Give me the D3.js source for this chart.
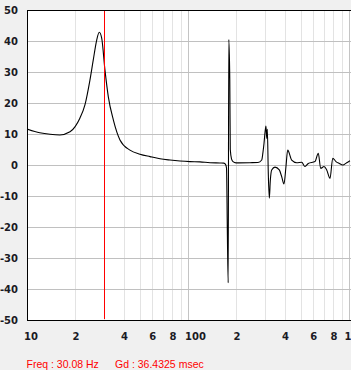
<!DOCTYPE html>
<html>
<head>
  <style>
    body { margin: 0; background: #f0f0f0; }
    svg { display: block; }
    .tick text { font-family: "DejaVu Sans", sans-serif; font-weight: bold; font-size: 10px; fill: #1a1a24; }
    .readout { font-family: "Liberation Sans", Arial, sans-serif; font-size: 10.5px; fill: #ff0000; }
  </style>
</head>
<body>
  <script src="https://cdn.jsdelivr.net/npm/d3@7"></script>
  <script>
    var width = 351;
    var height = 370;

    // group delay trace: frequency (Hz) and delay (msec)
    const freqs = [10, 12, 13.9, 16, 18.5, 19.9, 21.3, 22.9, 24.6, 25.8, 27.1, 28.1, 29.1, 30.5, 32, 34.4,
      37.8, 43.6, 50.3, 58.1, 67, 77.3, 89.2, 102.8, 118.7, 137, 158, 167, 171, 173.5, 175.5, 177.7,
      179.2, 181.8, 183.1, 186.3, 190.3, 198.7, 242.7, 272, 287, 292, 296.6, 300.8, 305, 308.3, 311,
      315.4, 320, 324.5, 331, 347, 369, 382, 394.6, 406, 416, 440.5, 473.4, 508.6, 533, 558.6, 615,
      644.6, 667, 699.6, 727, 762.4, 792.4, 830, 871, 914, 968, 1014];
    const delays = [11.6, 10.4, 9.9, 9.7, 10.7, 12.4, 15.1, 19.4, 27.4, 33.9, 40.3, 42.8, 40.9, 30.6, 22, 14.5,
      8.1, 4.8, 3.5, 2.7, 2.0, 1.6, 1.3, 1.1, 1.0, 0.75, 0.65, 0.6, 0.2, -1, -21, -38,
      40.5, 27.4, 5, 2, 1.1, 0.7, 0.75, 0.8, 1.6, 4, 7, 10.5, 12.6, 8.6, 11.5,
      -3, -10.7, -5, -1.6, -0.7, -1.6, -3.8, -6.1, -0.5, 4.8, 1.6, 0.75, 0.9, -0.5, 0.5, 1.1,
      3.8, -1.1, -0.5, -1.6, -4.3, 2.2, 1.1, 0.5, 0, 0.75, 1.4];

    const cursorFreq = 30.08;
    const readoutFreq = "Freq : 30.08 Hz";
    const readoutGd = "Gd : 36.4325 msec";

    const majorFreqs = [10, 100, 1000];
    const minorFreqs = [20, 30, 40, 50, 60, 70, 80, 90, 200, 300, 400, 500, 600, 700, 800, 900];
    const xTickValues = [10, 20, 40, 60, 80, 100, 200, 400, 600, 800, 1000];
    const xTickLabels = ["10", "2", "4", "6", "8", "100", "2", "4", "6", "8", "1"];
    const yTickValues = [-50, -40, -30, -20, -10, 0, 10, 20, 30, 40, 50];

    const plotLeft = 27, plotTop = 10, plotBottom = 320, plotRight = 349;

    var x = d3.scaleLog().domain([10, 1000]).range([plotLeft, plotRight]);
    var y = d3.scaleLinear().domain([-50, 50]).range([plotBottom, plotTop]);

    var svg = d3.select("body").append("svg")
      .attr("width", width)
      .attr("height", height);

    svg.append("rect")
      .attr("x", plotLeft).attr("y", plotTop)
      .attr("width", width - plotLeft).attr("height", plotBottom - plotTop)
      .style("fill", "white");

    var px = v => Math.round(v) + 0.5;

    // grid
    var grid = svg.append("g").attr("class", "grid").style("shape-rendering", "crispEdges");
    grid.selectAll("line.minor").data(minorFreqs).join("line")
      .attr("class", "minor")
      .attr("x1", d => px(x(d))).attr("x2", d => px(x(d)))
      .attr("y1", plotTop).attr("y2", plotBottom)
      .style("stroke", "#e3e3e3");
    grid.selectAll("line.major").data(majorFreqs.slice(1)).join("line")
      .attr("class", "major")
      .attr("x1", d => px(x(d))).attr("x2", d => px(x(d)))
      .attr("y1", plotTop).attr("y2", plotBottom)
      .style("stroke", "#c4c4c4");
    grid.selectAll("line.hz").data(yTickValues.slice(1, -1)).join("line")
      .attr("class", "hz")
      .attr("x1", plotLeft).attr("x2", width)
      .attr("y1", d => px(y(d))).attr("y2", d => px(y(d)))
      .style("stroke", "#c0c0c0");

    // frame
    var frame = svg.append("g").style("shape-rendering", "crispEdges");
    frame.append("line").attr("x1", plotLeft).attr("x2", width).attr("y1", plotTop + 0.5).attr("y2", plotTop + 0.5).style("stroke", "black");
    frame.append("line").attr("x1", plotLeft).attr("x2", width).attr("y1", plotBottom + 0.5).attr("y2", plotBottom + 0.5).style("stroke", "black");
    frame.append("line").attr("x1", plotLeft + 0.5).attr("x2", plotLeft + 0.5).attr("y1", plotTop).attr("y2", plotBottom + 1).style("stroke", "black");

    svg.append("clipPath").attr("id", "plot-clip")
      .append("rect").attr("x", plotLeft + 1).attr("y", plotTop + 1)
      .attr("width", width - plotLeft - 1).attr("height", plotBottom - plotTop - 1);

    var data = freqs.map((f, i) => [f, delays[i]]);
    var line = d3.line().curve(d3.curveMonotoneX).x(d => x(d[0])).y(d => y(d[1]));

    svg.append("path")
      .datum(data)
      .attr("clip-path", "url(#plot-clip)")
      .attr("d", line)
      .style("fill", "none")
      .style("stroke", "black")
      .style("stroke-width", 1.1);

    // cursor
    svg.append("line")
      .attr("x1", px(x(cursorFreq))).attr("x2", px(x(cursorFreq)))
      .attr("y1", plotTop + 1).attr("y2", plotBottom - 1)
      .style("stroke", "#ff0000")
      .style("shape-rendering", "crispEdges");

    // axes
    var xAxis = d3.axisBottom(x)
      .tickValues(xTickValues)
      .tickFormat((d, i) => xTickLabels[i])
      .tickSize(0)
      .tickPadding(13);
    var gx = svg.append("g").attr("transform", `translate(0,${plotBottom})`).call(xAxis);
    gx.select(".domain").remove();
    gx.selectAll("text").attr("text-anchor", "start").attr("dx", d => d === 1000 ? -5 : -3.5);

    var yAxis = d3.axisLeft(y)
      .tickValues(yTickValues)
      .tickFormat(d => String(d))
      .tickSize(0)
      .tickPadding(9);
    var gy = svg.append("g").attr("transform", `translate(${plotLeft},0)`).call(yAxis);
    gy.select(".domain").remove();

    svg.append("text").attr("class", "readout").attr("x", 26.5).attr("y", 368).text(readoutFreq);
    svg.append("text").attr("class", "readout").attr("x", 115).attr("y", 368).text(readoutGd);
  </script>
</body>
</html>
